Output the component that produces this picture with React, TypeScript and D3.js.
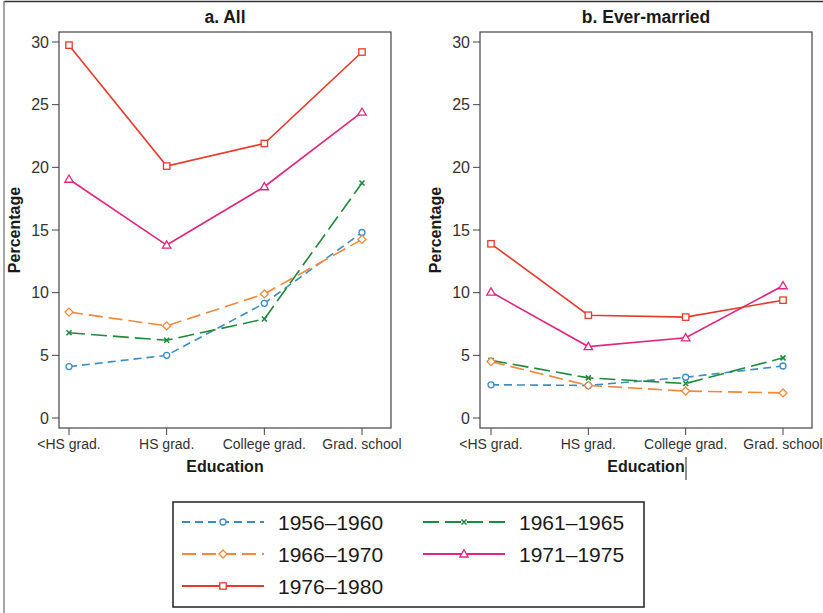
import React from "react";
import * as d3 from "d3";

const categories = ["<HS grad.", "HS grad.", "College grad.", "Grad. school"];
const seriesNames = ["1956–1960", "1961–1965", "1966–1970", "1971–1975", "1976–1980"];
const allValues: number[][] = [
  [4.1, 5.0, 9.15, 14.8],
  [6.8, 6.2, 7.9, 18.75],
  [8.45, 7.35, 9.9, 14.25],
  [19.05, 13.8, 18.45, 24.4],
  [29.75, 20.1, 21.9, 29.2],
];
const marriedValues: number[][] = [
  [2.65, 2.6, 3.25, 4.15],
  [4.6, 3.2, 2.75, 4.8],
  [4.5, 2.6, 2.15, 2.0],
  [10.05, 5.7, 6.4, 10.55],
  [13.9, 8.2, 8.05, 9.4],
];
const yTicks = [0, 5, 10, 15, 20, 25, 30];

const colors = ["#3a8ec4", "#1f8a3c", "#f5863a", "#e0267e", "#e83a2c"];
const dashes = ["8,5", "16,6", "14,6", "none", "none"];
const markers = ["circle", "x", "diamond", "triangle", "square"];

const FONT = "'Liberation Sans', Arial, sans-serif";

function Marker({ kind, x, y, color }: { kind: string; x: number; y: number; color: string }) {
  const sw = 1.3;
  if (kind === "circle") return <circle cx={x} cy={y} r={3} fill="white" stroke={color} strokeWidth={sw} />;
  if (kind === "square") return <rect x={x - 3.2} y={y - 3.2} width={6.4} height={6.4} fill="white" stroke={color} strokeWidth={sw} />;
  if (kind === "diamond")
    return <path d={`M${x},${y - 4}L${x + 4},${y}L${x},${y + 4}L${x - 4},${y}Z`} fill="white" stroke={color} strokeWidth={sw} />;
  if (kind === "triangle")
    return <path d={`M${x},${y - 4.2}L${x + 4.2},${y + 3}L${x - 4.2},${y + 3}Z`} fill="white" stroke={color} strokeWidth={sw} />;
  return (
    <path d={`M${x - 2.5},${y - 2.5}L${x + 2.5},${y + 2.5}M${x - 2.5},${y + 2.5}L${x + 2.5},${y - 2.5}`} stroke={color} strokeWidth={1.6} />
  );
}

function Panel({ title, values, left, right, x0, x1, labelX }: { title: string; values: number[][]; left: number; right: number; x0: number; x1: number; labelX: number }) {
  const top = 32, bottom = 428;
  const y = d3.scaleLinear().domain([0, 30]).range([418, 42]);
  const x = d3.scalePoint<string>().domain(categories).range([x0, x1]);
  const line = d3
    .line<number>()
    .x((_, i) => x(categories[i]) as number)
    .y((d) => y(d));
  return (
    <g fontFamily={FONT}>
      <text x={(left + right) / 2} y={23} textAnchor="middle" fontWeight="bold" fontSize={17.5} fill="#1a1a1a">
        {title}
      </text>
      <rect x={left} y={top} width={right - left} height={bottom - top} fill="none" stroke="#444" strokeWidth={1.2} />
      {yTicks.map((t) => (
        <g key={t}>
          <line x1={left - 7} x2={left} y1={y(t)} y2={y(t)} stroke="#444" strokeWidth={1} />
          <text x={left - 10} y={y(t)} dy="0.36em" textAnchor="end" fontSize={16} fill="#333">
            {t}
          </text>
        </g>
      ))}
      {categories.map((c) => (
        <g key={c}>
          <line x1={x(c)} x2={x(c)} y1={bottom} y2={bottom + 7} stroke="#444" strokeWidth={1} />
          <text x={x(c)} y={bottom + 21} textAnchor="middle" fontSize={14} fill="#333">
            {c}
          </text>
        </g>
      ))}
      <text x={(left + right) / 2} y={bottom + 44} textAnchor="middle" fontWeight="bold" fontSize={16} fill="#1a1a1a">
        Education
      </text>
      <text transform={`translate(${labelX},230) rotate(-90)`} textAnchor="middle" fontWeight="bold" fontSize={16} fill="#1a1a1a">
        Percentage
      </text>
      {values.map((vals, si) => (
        <g key={si}>
          <path d={line(vals) || ""} fill="none" stroke={colors[si]} strokeWidth={1.6} strokeDasharray={dashes[si]} />
          {vals.map((v, i) => (
            <Marker key={i} kind={markers[si]} x={x(categories[i]) as number} y={y(v)} color={colors[si]} />
          ))}
        </g>
      ))}
    </g>
  );
}

export default function App() {
  const legendPos = [
    { x: 182, y: 522 },
    { x: 423, y: 522 },
    { x: 182, y: 554 },
    { x: 423, y: 554 },
    { x: 182, y: 586 },
  ];
  return (
    <svg width={823} height={613} style={{ position: "absolute", left: 0, top: 0, background: "white" }}>
      <rect x={0} y={0} width={823} height={613} fill="white" />
      <line x1={4} x2={823} y1={1.5} y2={1.5} stroke="#333" strokeWidth={1.5} />
      <line x1={4} x2={4} y1={1} y2={613} stroke="#888" strokeWidth={1.5} />
      <Panel title="a. All" values={allValues} left={59} right={391} x0={69} x1={362} labelX={20} />
      <Panel title="b. Ever-married" values={marriedValues} left={480} right={812} x0={491} x1={783} labelX={441} />
      <line x1={686} x2={686} y1={457} y2={480} stroke="#222" strokeWidth={1} />
      <rect x={173} y={502} width={471} height={105} fill="white" stroke="#222" strokeWidth={1.5} />
      {seriesNames.map((name, si) => {
        const p = legendPos[si];
        return (
          <g key={name}>
            <line x1={p.x} x2={p.x + 82} y1={p.y} y2={p.y} stroke={colors[si]} strokeWidth={1.8} strokeDasharray={dashes[si]} />
            <Marker kind={markers[si]} x={p.x + 41} y={p.y} color={colors[si]} />
            <text x={p.x + 96} y={p.y} dy="0.36em" fontFamily={FONT} fontSize={21} fill="#1a1a1a">
              {name}
            </text>
          </g>
        );
      })}
    </svg>
  );
}
